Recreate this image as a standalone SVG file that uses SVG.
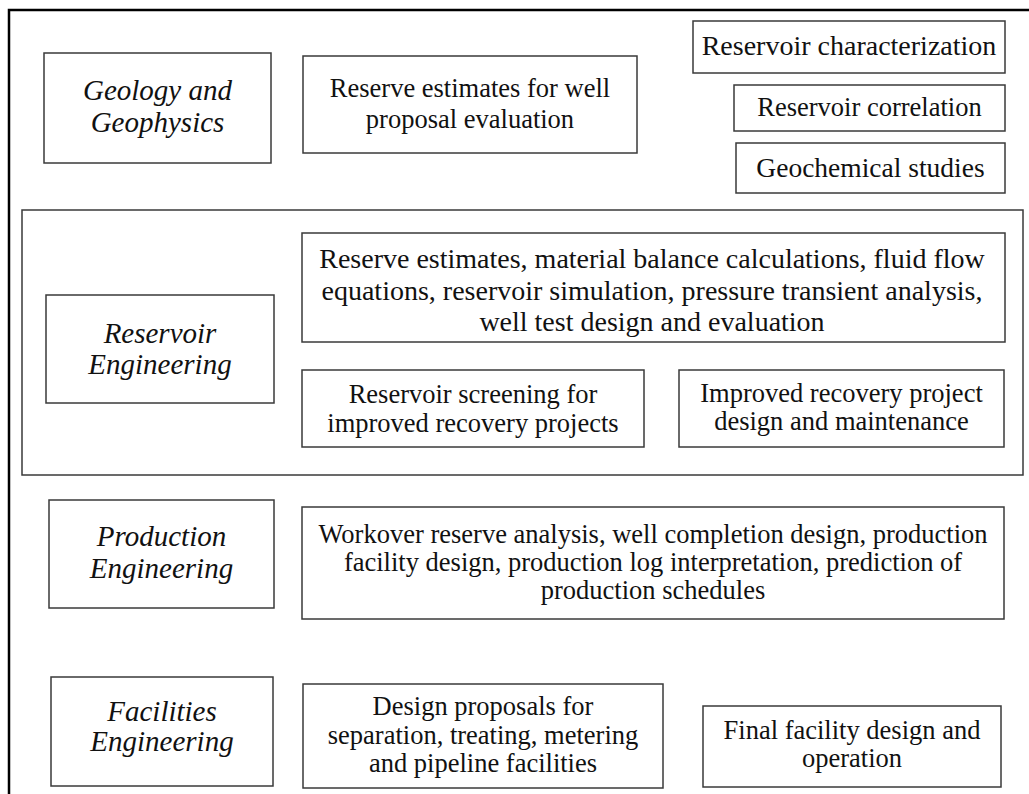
<svg xmlns="http://www.w3.org/2000/svg" width="1029" height="794" viewBox="0 0 1029 794">
<style>
.box{fill:#fff;stroke:#3a3a3a;stroke-width:1.5}
.frame{fill:none;stroke:#000;stroke-width:2.5}
text{font-family:"Liberation Serif","Times New Roman",serif;font-size:26.5px;fill:#111;text-anchor:middle}
.it{font-style:italic;font-size:29px}
.lg{font-size:28px}
</style>
<rect width="1029" height="794" fill="#fff"/>
<g id="frame">
<path class="frame" d="M9,794 V10 H1029"/>
</g>
<g id="connectors"></g>
<g id="reservoir-group">
<rect class="box" x="22" y="210" width="1001" height="265"/>
</g>
<g id="geology">
<rect class="box" x="44" y="53" width="227" height="110"/>
<text class="it" x="157.5" y="100">Geology and</text>
<text class="it" x="157.5" y="132">Geophysics</text>
</g>
<g id="well-proposal">
<rect class="box" x="303" y="56" width="334" height="97"/>
<text x="470" y="97">Reserve estimates for well</text>
<text x="470" y="128">proposal evaluation</text>
</g>
<g id="res-char">
<rect class="box" x="693" y="21" width="312" height="52"/>
<text class="lg" x="849" y="55">Reservoir characterization</text>
</g>
<g id="res-corr">
<rect class="box" x="734" y="85" width="271" height="46"/>
<text x="869.5" y="116">Reservoir correlation</text>
</g>
<g id="geochem">
<rect class="box" x="736" y="143" width="269" height="50"/>
<text x="870.5" y="177" style="font-size:27.5px">Geochemical studies</text>
</g>
<g id="res-eng">
<rect class="box" x="46" y="295" width="228" height="108"/>
<text class="it" x="160" y="343">Reservoir</text>
<text class="it" x="160" y="374">Engineering</text>
</g>
<g id="material">
<rect class="box" x="302" y="233" width="703" height="109"/>
<text class="lg" x="652" y="268">Reserve estimates, material balance calculations, fluid flow</text>
<text class="lg" x="652" y="300">equations, reservoir simulation, pressure transient analysis,</text>
<text class="lg" x="652" y="331">well test design and evaluation</text>
</g>
<g id="screening">
<rect class="box" x="302" y="370" width="342" height="77"/>
<text x="473" y="403">Reservoir screening for</text>
<text x="473" y="432">improved recovery projects</text>
</g>
<g id="improved">
<rect class="box" x="679" y="370" width="325" height="77"/>
<text x="841.5" y="402">Improved recovery project</text>
<text x="841.5" y="430">design and maintenance</text>
</g>
<g id="prod-eng">
<rect class="box" x="49" y="500" width="225" height="108"/>
<text class="it" x="161.5" y="546">Production</text>
<text class="it" x="161.5" y="578">Engineering</text>
</g>
<g id="workover">
<rect class="box" x="302" y="507" width="702" height="112"/>
<text x="653" y="543">Workover reserve analysis, well completion design, production</text>
<text x="653" y="571">facility design, production log interpretation, prediction of</text>
<text x="653" y="599">production schedules</text>
</g>
<g id="fac-eng">
<rect class="box" x="51" y="677" width="222" height="109"/>
<text class="it" x="162" y="721">Facilities</text>
<text class="it" x="162" y="751">Engineering</text>
</g>
<g id="design-proposals">
<rect class="box" x="303" y="684" width="360" height="104"/>
<text x="483" y="715">Design proposals for</text>
<text x="483" y="744">separation, treating, metering</text>
<text x="483" y="772">and pipeline facilities</text>
</g>
<g id="final-facility">
<rect class="box" x="703" y="706" width="298" height="81"/>
<text x="852" y="739">Final facility design and</text>
<text x="852" y="767">operation</text>
</g>
</svg>
